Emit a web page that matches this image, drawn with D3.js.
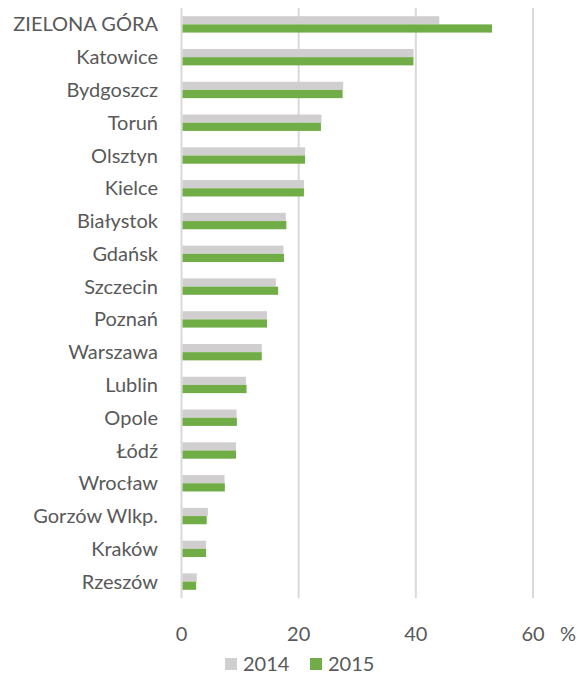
<!DOCTYPE html>
<html>
<head>
<meta charset="utf-8">
<script src="https://cdn.jsdelivr.net/npm/d3@7"></script>
<style>
  body { margin: 0; background: #fff; }
  svg text { font-family: Lato, "Open Sans", sans-serif; fill: #595959; }
</style>
</head>
<body>
<div id="chart"></div>
<script>
const cities = ["ZIELONA GÓRA", "Katowice", "Bydgoszcz", "Toruń", "Olsztyn", "Kielce",
  "Białystok", "Gdańsk", "Szczecin", "Poznań", "Warszawa", "Lublin", "Opole", "Łódź",
  "Wrocław", "Gorzów Wlkp.", "Kraków", "Rzeszów"];
const values2014 = [44.0, 39.6, 27.6, 23.9, 21.1, 20.9, 17.8, 17.4, 16.1, 14.6, 13.7, 11.0, 9.4, 9.3, 7.35, 4.5, 4.2, 2.6];
const values2015 = [53.0, 39.6, 27.5, 23.8, 21.1, 20.9, 17.9, 17.5, 16.5, 14.6, 13.7, 11.1, 9.45, 9.3, 7.4, 4.3, 4.2, 2.5];
const series = ["2014", "2015"];
const colors = ["#d0cece", "#70ad47"];
const xTicks = [0, 20, 40, 60];

const W = 578, H = 674;
const plot = {left: 181.5, right: 533, top: 8, bottom: 598};

const svg = d3.select("#chart").append("svg")
  .attr("width", W).attr("height", H);

const x = d3.scaleLinear().domain([0, 60]).range([plot.left, plot.right]);
const y = d3.scaleBand().domain(cities).range([plot.top, plot.bottom]).paddingInner(0.5).paddingOuter(0.25);
const ySub = d3.scaleBand().domain(series).range([0, y.bandwidth()]);

// gridlines
svg.append("g").selectAll("line")
  .data(xTicks)
  .join("line")
  .attr("x1", d => x(d)).attr("x2", d => x(d))
  .attr("y1", plot.top).attr("y2", plot.bottom)
  .attr("stroke", "#d9d9d9")
  .attr("stroke-width", 2);

// bars
const rows = svg.append("g").selectAll("g")
  .data(cities.map((c, i) => ({city: c, vals: [values2014[i], values2015[i]]})))
  .join("g")
  .attr("transform", d => `translate(0,${y(d.city)})`);

rows.selectAll("rect")
  .data(d => d.vals.map((v, j) => ({key: series[j], v: v, c: colors[j]})))
  .join("rect")
  .attr("x", x(0) + 1)
  .attr("y", d => ySub(d.key))
  .attr("width", d => x(d.v) - x(0) - 1)
  .attr("height", ySub.bandwidth())
  .attr("fill", d => d.c);

// category labels
svg.append("g").selectAll("text")
  .data(cities)
  .join("text")
  .attr("x", 158)
  .attr("y", d => y(d) + y.bandwidth() / 2)
  .attr("dy", "0.35em")
  .attr("text-anchor", "end")
  .style("font-size", "20px")
  .text(d => d);

// x tick labels
svg.append("g").selectAll("text")
  .data(xTicks)
  .join("text")
  .attr("x", d => x(d))
  .attr("y", 641)
  .attr("text-anchor", "middle")
  .style("font-size", "20px")
  .text(d => d);

svg.append("text")
  .attr("x", 568).attr("y", 641)
  .attr("text-anchor", "middle")
  .style("font-size", "20px")
  .text("%");

// legend
const legend = svg.append("g");
const legendX = [225, 310];
series.forEach((s, i) => {
  legend.append("rect")
    .attr("x", legendX[i]).attr("y", 658)
    .attr("width", 12).attr("height", 12)
    .attr("fill", colors[i]);
  legend.append("text")
    .attr("x", legendX[i] + 18).attr("y", 671)
    .style("font-size", "20px")
    .text(s);
});
</script>
</body>
</html>
